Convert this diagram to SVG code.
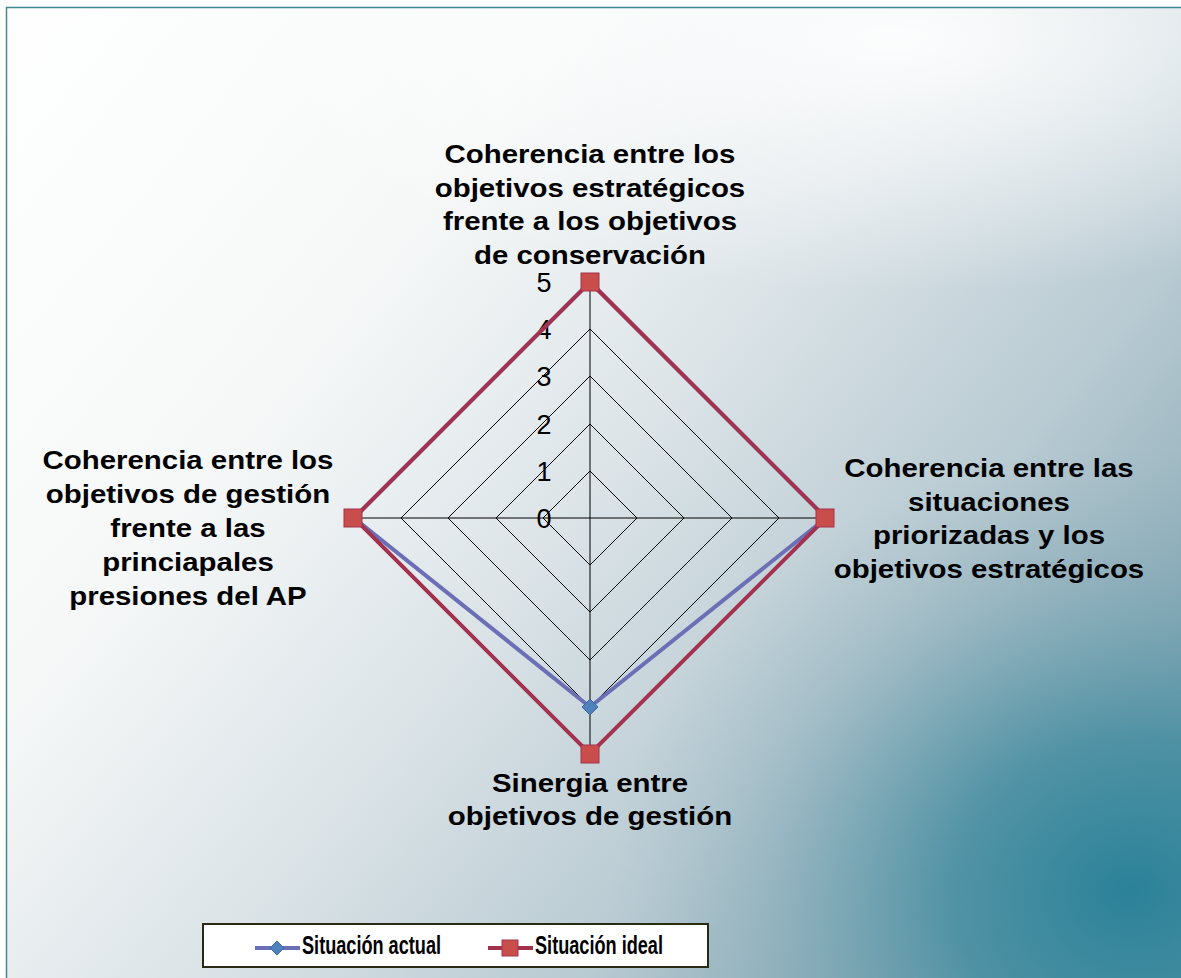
<svg xmlns="http://www.w3.org/2000/svg" width="1181" height="978" viewBox="0 0 1181 978">
<defs>
<linearGradient id="bgLin" x1="0" y1="0" x2="1181" y2="978" gradientUnits="userSpaceOnUse">
<stop offset="0" stop-color="#ffffff"/>
<stop offset="0.3" stop-color="#f6f8f8"/>
<stop offset="0.5" stop-color="#dce4e8"/>
<stop offset="0.7" stop-color="#b8cad2"/>
<stop offset="0.85" stop-color="#8eadb9"/>
<stop offset="1" stop-color="#5e93a4"/>
</linearGradient>
<radialGradient id="spot" cx="1130" cy="890" r="520" gradientUnits="userSpaceOnUse" gradientTransform="translate(1130,890) scale(1,0.85) translate(-1130,-890)">
<stop offset="0" stop-color="#2b8299" stop-opacity="1"/>
<stop offset="0.35" stop-color="#3f8b9f" stop-opacity="0.75"/>
<stop offset="0.7" stop-color="#6f9fae" stop-opacity="0.3"/>
<stop offset="1" stop-color="#8eadb9" stop-opacity="0"/>
</radialGradient>
<radialGradient id="topWhite" cx="900" cy="40" r="420" gradientUnits="userSpaceOnUse" gradientTransform="translate(900,40) scale(1.6,0.6) translate(-900,-40)">
<stop offset="0" stop-color="#ffffff" stop-opacity="0.9"/>
<stop offset="1" stop-color="#ffffff" stop-opacity="0"/>
</radialGradient>
<style>
.lbl{font-family:"Liberation Sans",Arial,sans-serif;font-weight:bold;font-size:26.5px;fill:#000;text-anchor:middle}
.num{font-family:"Liberation Sans",Arial,sans-serif;font-size:27px;fill:#000;text-anchor:middle}
.grid{fill:none;stroke:#000;stroke-width:1}
.leg{font-family:"Liberation Sans",Arial,sans-serif;font-weight:bold;font-size:25px;fill:#000}
.ideal{fill:none;stroke:#a3324f;stroke-width:4;stroke-linejoin:miter}
.actual{fill:none;stroke:#6b70b6;stroke-width:4}
.sq{fill:#c94d4a;stroke:#a3324f;stroke-width:1}
.dm{fill:#4f81bd;stroke:#4068a0;stroke-width:1}
</style>
</defs>
<rect x="6.5" y="7.5" width="1180" height="975" fill="url(#bgLin)"/>
<rect x="6.5" y="7.5" width="1180" height="975" fill="url(#spot)"/>
<rect x="6.5" y="7.5" width="1180" height="975" fill="url(#topWhite)"/>
<rect x="6.5" y="7.5" width="1180" height="975" fill="none" stroke="#3f8a8e" stroke-width="1.5"/>

<g id="grid">
<polygon class="grid" points="590,471 637,518 590,565 543,518"/>
<polygon class="grid" points="590,424 684,518 590,612 496,518"/>
<polygon class="grid" points="590,376 732,518 590,660 448,518"/>
<polygon class="grid" points="590,329 779,518 590,707 401,518"/>
<polygon class="grid" points="590,282 826,518 590,754 354,518"/>
<line class="grid" x1="590" y1="282" x2="590" y2="754"/>
<line class="grid" x1="354" y1="518" x2="826" y2="518"/>
</g>

<g id="axis-numbers">
<text class="num" x="544" y="528">0</text>
<text class="num" x="544" y="481">1</text>
<text class="num" x="544" y="434">2</text>
<text class="num" x="544" y="386">3</text>
<text class="num" x="544" y="339">4</text>
<text class="num" x="544" y="292">5</text>
</g>

<g id="series-actual">
<polygon class="actual" points="590,282 826,518 590,707 354,518"/>
</g>
<g id="series-ideal">
<polygon class="ideal" points="590,282 826,518 590,754 354,518"/>
<rect class="sq" x="581" y="273" width="18" height="18"/>
<rect class="sq" x="816" y="509" width="18" height="18"/>
<rect class="sq" x="581" y="745" width="18" height="18"/>
<rect class="sq" x="344" y="509" width="18" height="18"/>
</g>
<g id="actual-markers">
<polygon class="dm" points="590,699 598,707 590,715 582,707"/>
</g>

<g id="label-top" transform="matrix(1.11,0,0,1,-64.9,0)">
<text class="lbl" x="590" y="163">Coherencia entre los</text>
<text class="lbl" x="590" y="197">objetivos estratégicos</text>
<text class="lbl" x="590" y="230">frente a los objetivos</text>
<text class="lbl" x="590" y="264">de conservación</text>
</g>
<g id="label-left" transform="matrix(1.11,0,0,1,-20.68,0)">
<text class="lbl" x="188" y="469">Coherencia entre los</text>
<text class="lbl" x="188" y="503">objetivos de gestión</text>
<text class="lbl" x="188" y="537">frente a las</text>
<text class="lbl" x="188" y="571">princiapales</text>
<text class="lbl" x="188" y="605">presiones del AP</text>
</g>
<g id="label-right" transform="matrix(1.11,0,0,1,-108.79,0)">
<text class="lbl" x="989" y="477">Coherencia entre las</text>
<text class="lbl" x="989" y="511">situaciones</text>
<text class="lbl" x="989" y="544">priorizadas y los</text>
<text class="lbl" x="989" y="578">objetivos estratégicos</text>
</g>
<g id="label-bottom" transform="matrix(1.11,0,0,1,-64.9,0)">
<text class="lbl" x="590" y="792">Sinergia entre</text>
<text class="lbl" x="590" y="825">objetivos de gestión</text>
</g>

<g id="legend">
<rect x="203" y="924" width="505" height="43" fill="#ffffff" stroke="#2a2a14" stroke-width="2"/>
<line x1="255" y1="948" x2="300" y2="948" stroke="#6b70b6" stroke-width="4"/>
<polygon class="dm" points="277,941 284,948 277,955 270,948"/>
<text class="leg" x="302" y="954" textLength="139" lengthAdjust="spacingAndGlyphs">Situación actual</text>
<line x1="488" y1="948" x2="533" y2="948" stroke="#a3324f" stroke-width="4"/>
<rect class="sq" x="502" y="940" width="16" height="16"/>
<text class="leg" x="535" y="954" textLength="128" lengthAdjust="spacingAndGlyphs">Situación ideal</text>
</g>
</svg>
